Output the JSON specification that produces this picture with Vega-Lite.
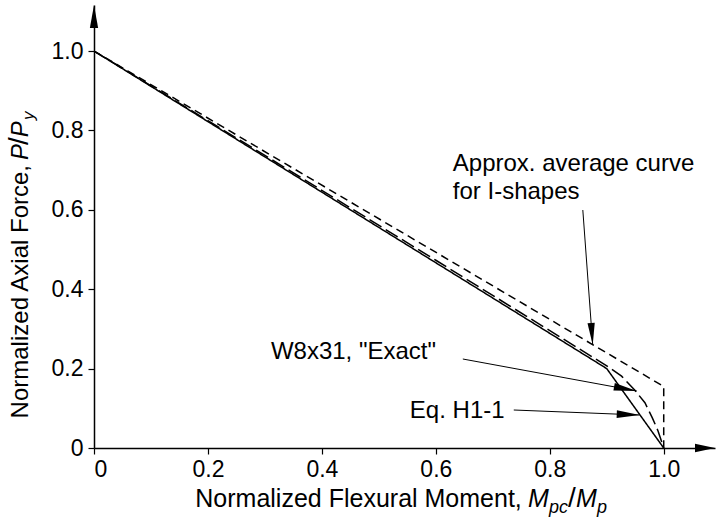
{
  "$schema": "https://vega.github.io/schema/vega-lite/v6.json",
  "width": 621,
  "height": 443,
  "autosize": {"type": "none"},
  "padding": {"left": 94, "top": 5, "right": 2, "bottom": 75},
  "background": "white",
  "config": {
    "view": {"stroke": null},
    "font": "Liberation Sans",
    "axis": {
      "domainColor": "black",
      "domainWidth": 1.5,
      "tickColor": "black",
      "tickWidth": 1.2,
      "tickSize": 6,
      "labelColor": "black",
      "labelFont": "Liberation Sans",
      "labelFontSize": 23,
      "grid": false,
      "title": null
    },
    "axisX": {"labelPadding": 4},
    "axisY": {"labelPadding": 5}
  },
  "datasets": {
    "lines": [
      {"series": "Eq. H1-1", "o": 0, "M": 0, "P": 1},
      {"series": "Eq. H1-1", "o": 1, "M": 0.9, "P": 0.2},
      {"series": "Eq. H1-1", "o": 2, "M": 1.0, "P": 0},
      {"series": "W8x31 Exact", "o": 0, "M": 0, "P": 1},
      {"series": "W8x31 Exact", "o": 1, "M": 0.3, "P": 0.737},
      {"series": "W8x31 Exact", "o": 2, "M": 0.6, "P": 0.473},
      {"series": "W8x31 Exact", "o": 3, "M": 0.9, "P": 0.207},
      {"series": "W8x31 Exact", "o": 4, "M": 0.926, "P": 0.181},
      {"series": "W8x31 Exact", "o": 5, "M": 0.949, "P": 0.146},
      {"series": "W8x31 Exact", "o": 6, "M": 0.967, "P": 0.114},
      {"series": "W8x31 Exact", "o": 7, "M": 0.98, "P": 0.076},
      {"series": "W8x31 Exact", "o": 8, "M": 0.99, "P": 0.043},
      {"series": "W8x31 Exact", "o": 9, "M": 1.0, "P": 0},
      {"series": "Approx. average", "o": 0, "M": 0, "P": 1},
      {"series": "Approx. average", "o": 1, "M": 1.0, "P": 0.155},
      {"series": "Approx. average", "o": 2, "M": 1.0, "P": 0}
    ],
    "axisArrows": [
      {"id": "y", "x": 0, "y": 1.116},
      {"id": "x", "x": 1.09, "y": 0}
    ],
    "arrows": [
      {"id": "approx", "x": 0.858, "y": 0.5995, "x2": 0.8754, "y2": 0.2594},
      {"id": "exact", "x": 0.6474, "y": 0.2242, "x2": 0.9526, "y2": 0.1436},
      {"id": "eq", "x": 0.7368, "y": 0.0957, "x2": 0.9579, "y2": 0.0831}
    ],
    "notes": [
      {"text": "Approx. average curve", "x": 0.6298, "y": 0.6977},
      {"text": "for I-shapes", "x": 0.6298, "y": 0.6272},
      {"text": "W8x31, \"Exact\"", "x": 0.3105, "y": 0.2242},
      {"text": "Eq. H1-1", "x": 0.5544, "y": 0.0756}
    ],
    "xTitleMain": [{"text": "Normalized Flexural Moment,", "x": 0.7509, "y": -0.1487}],
    "xTitleItalic": [{"text": "M", "x": 0.7618, "y": -0.1487}, {"text": "M", "x": 0.846, "y": -0.1487}],
    "xTitleSub": [{"text": "pc", "x": 0.7987, "y": -0.1638}, {"text": "p", "x": 0.883, "y": -0.1638}],
    "xTitleSlash": [{"text": "/", "x": 0.832, "y": -0.1487}],
    "yTitleMain": [{"text": "Normalized Axial Force,", "x": -0.1158, "y": 0.713}],
    "yTitleItalic": [{"text": "P", "x": -0.1158, "y": 0.7255}, {"text": "P", "x": -0.1158, "y": 0.783}],
    "yTitleSub": [{"text": "y", "x": -0.105, "y": 0.826}],
    "yTitleSlash": [{"text": "/", "x": -0.1158, "y": 0.763}]
  },
  "layer": [
    {
      "data": {"name": "lines"},
      "mark": {"type": "line", "color": "black", "strokeWidth": 1.5},
      "encoding": {
        "x": {
          "field": "M", "type": "quantitative",
          "scale": {"domain": [0, 1.09], "nice": false, "zero": false},
          "axis": {"values": [0, 0.2, 0.4, 0.6, 0.8, 1.0], "labelExpr": "datum.value === 0 ? '0' : format(datum.value, '.1f')"}
        },
        "y": {
          "field": "P", "type": "quantitative",
          "scale": {"domain": [0, 1.116], "nice": false, "zero": false},
          "axis": {"values": [0, 0.2, 0.4, 0.6, 0.8, 1.0], "labelExpr": "datum.value === 0 ? '0' : format(datum.value, '.1f')"}
        },
        "detail": {"field": "series"},
        "order": {"field": "o", "type": "quantitative"},
        "strokeDash": {
          "field": "series", "type": "nominal",
          "scale": {"domain": ["Eq. H1-1", "W8x31 Exact", "Approx. average"], "range": [[1, 0], [14, 5], [8, 5]]},
          "legend": null
        }
      }
    },
    {
      "data": {"name": "arrows"},
      "mark": {"type": "rule", "color": "black", "strokeWidth": 1},
      "encoding": {
        "x": {"field": "x", "type": "quantitative", "scale": {"domain": [0, 1.09], "nice": false, "zero": false}},
        "y": {"field": "y", "type": "quantitative", "scale": {"domain": [0, 1.116], "nice": false, "zero": false}},
        "x2": {"field": "x2"},
        "y2": {"field": "y2"}
      }
    },
    {
      "data": {"name": "axisArrows"},
      "transform": [{"filter": "datum.id === 'y'"}],
      "mark": {"type": "point", "shape": "M0,0L-0.36,2L0.36,2Z", "filled": true, "color": "black", "opacity": 1, "size": 529, "angle": 0, "strokeWidth": 0},
      "encoding": {
        "x": {"field": "x", "type": "quantitative", "scale": {"domain": [0, 1.09], "nice": false, "zero": false}},
        "y": {"field": "y", "type": "quantitative", "scale": {"domain": [0, 1.116], "nice": false, "zero": false}}
      }
    },
    {
      "data": {"name": "axisArrows"},
      "transform": [{"filter": "datum.id === 'x'"}],
      "mark": {"type": "point", "shape": "M0,0L-0.42,2L0.42,2Z", "filled": true, "color": "black", "opacity": 1, "size": 400, "angle": 90, "strokeWidth": 0},
      "encoding": {
        "x": {"field": "x", "type": "quantitative", "scale": {"domain": [0, 1.09], "nice": false, "zero": false}},
        "y": {"field": "y", "type": "quantitative", "scale": {"domain": [0, 1.116], "nice": false, "zero": false}}
      }
    },
    {
      "data": {"name": "arrows"},
      "transform": [{"filter": "datum.id === 'approx'"}],
      "mark": {"type": "point", "shape": "M0,0L-0.33,2L0.33,2Z", "filled": true, "color": "black", "opacity": 1, "size": 484, "angle": 175.8, "strokeWidth": 0},
      "encoding": {
        "x": {"field": "x2", "type": "quantitative", "scale": {"domain": [0, 1.09], "nice": false, "zero": false}},
        "y": {"field": "y2", "type": "quantitative", "scale": {"domain": [0, 1.116], "nice": false, "zero": false}}
      }
    },
    {
      "data": {"name": "arrows"},
      "transform": [{"filter": "datum.id === 'exact'"}],
      "mark": {"type": "point", "shape": "M0,0L-0.33,2L0.33,2Z", "filled": true, "color": "black", "opacity": 1, "size": 529, "angle": 100.4, "strokeWidth": 0},
      "encoding": {
        "x": {"field": "x2", "type": "quantitative", "scale": {"domain": [0, 1.09], "nice": false, "zero": false}},
        "y": {"field": "y2", "type": "quantitative", "scale": {"domain": [0, 1.116], "nice": false, "zero": false}}
      }
    },
    {
      "data": {"name": "arrows"},
      "transform": [{"filter": "datum.id === 'eq'"}],
      "mark": {"type": "point", "shape": "M0,0L-0.33,2L0.33,2Z", "filled": true, "color": "black", "opacity": 1, "size": 529, "angle": 92.3, "strokeWidth": 0},
      "encoding": {
        "x": {"field": "x2", "type": "quantitative", "scale": {"domain": [0, 1.09], "nice": false, "zero": false}},
        "y": {"field": "y2", "type": "quantitative", "scale": {"domain": [0, 1.116], "nice": false, "zero": false}}
      }
    },
    {
      "data": {"name": "notes"},
      "mark": {"type": "text", "align": "left", "baseline": "alphabetic", "fontSize": 24, "color": "black", "font": "Liberation Sans"},
      "encoding": {
        "x": {"field": "x", "type": "quantitative", "scale": {"domain": [0, 1.09], "nice": false, "zero": false}},
        "y": {"field": "y", "type": "quantitative", "scale": {"domain": [0, 1.116], "nice": false, "zero": false}},
        "text": {"field": "text"}
      }
    },
    {
      "data": {"name": "xTitleMain"},
      "mark": {"type": "text", "align": "right", "baseline": "alphabetic", "fontSize": 25, "color": "black", "font": "Liberation Sans"},
      "encoding": {
        "x": {"field": "x", "type": "quantitative", "scale": {"domain": [0, 1.09], "nice": false, "zero": false}},
        "y": {"field": "y", "type": "quantitative", "scale": {"domain": [0, 1.116], "nice": false, "zero": false}},
        "text": {"field": "text"}
      }
    },
    {
      "data": {"name": "xTitleItalic"},
      "mark": {"type": "text", "align": "left", "baseline": "alphabetic", "fontSize": 25, "fontStyle": "italic", "color": "black", "font": "Liberation Sans"},
      "encoding": {
        "x": {"field": "x", "type": "quantitative", "scale": {"domain": [0, 1.09], "nice": false, "zero": false}},
        "y": {"field": "y", "type": "quantitative", "scale": {"domain": [0, 1.116], "nice": false, "zero": false}},
        "text": {"field": "text"}
      }
    },
    {
      "data": {"name": "xTitleSub"},
      "mark": {"type": "text", "align": "left", "baseline": "alphabetic", "fontSize": 18, "fontStyle": "italic", "color": "black", "font": "Liberation Sans"},
      "encoding": {
        "x": {"field": "x", "type": "quantitative", "scale": {"domain": [0, 1.09], "nice": false, "zero": false}},
        "y": {"field": "y", "type": "quantitative", "scale": {"domain": [0, 1.116], "nice": false, "zero": false}},
        "text": {"field": "text"}
      }
    },
    {
      "data": {"name": "xTitleSlash"},
      "mark": {"type": "text", "align": "left", "baseline": "alphabetic", "fontSize": 28, "color": "black", "font": "Liberation Sans"},
      "encoding": {
        "x": {"field": "x", "type": "quantitative", "scale": {"domain": [0, 1.09], "nice": false, "zero": false}},
        "y": {"field": "y", "type": "quantitative", "scale": {"domain": [0, 1.116], "nice": false, "zero": false}},
        "text": {"field": "text"}
      }
    },
    {
      "data": {"name": "yTitleMain"},
      "mark": {"type": "text", "align": "right", "baseline": "alphabetic", "angle": 270, "fontSize": 24, "color": "black", "font": "Liberation Sans"},
      "encoding": {
        "x": {"field": "x", "type": "quantitative", "scale": {"domain": [0, 1.09], "nice": false, "zero": false}},
        "y": {"field": "y", "type": "quantitative", "scale": {"domain": [0, 1.116], "nice": false, "zero": false}},
        "text": {"field": "text"}
      }
    },
    {
      "data": {"name": "yTitleItalic"},
      "mark": {"type": "text", "align": "left", "baseline": "alphabetic", "angle": 270, "fontSize": 24, "fontStyle": "italic", "color": "black", "font": "Liberation Sans"},
      "encoding": {
        "x": {"field": "x", "type": "quantitative", "scale": {"domain": [0, 1.09], "nice": false, "zero": false}},
        "y": {"field": "y", "type": "quantitative", "scale": {"domain": [0, 1.116], "nice": false, "zero": false}},
        "text": {"field": "text"}
      }
    },
    {
      "data": {"name": "yTitleSub"},
      "mark": {"type": "text", "align": "left", "baseline": "alphabetic", "angle": 270, "fontSize": 17, "fontStyle": "italic", "color": "black", "font": "Liberation Sans"},
      "encoding": {
        "x": {"field": "x", "type": "quantitative", "scale": {"domain": [0, 1.09], "nice": false, "zero": false}},
        "y": {"field": "y", "type": "quantitative", "scale": {"domain": [0, 1.116], "nice": false, "zero": false}},
        "text": {"field": "text"}
      }
    },
    {
      "data": {"name": "yTitleSlash"},
      "mark": {"type": "text", "align": "left", "baseline": "alphabetic", "angle": 270, "fontSize": 28, "color": "black", "font": "Liberation Sans"},
      "encoding": {
        "x": {"field": "x", "type": "quantitative", "scale": {"domain": [0, 1.09], "nice": false, "zero": false}},
        "y": {"field": "y", "type": "quantitative", "scale": {"domain": [0, 1.116], "nice": false, "zero": false}},
        "text": {"field": "text"}
      }
    }
  ]
}
